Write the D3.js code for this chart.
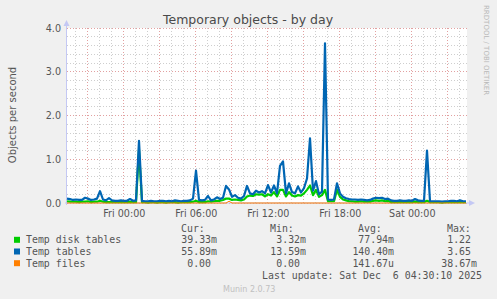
<!DOCTYPE html>
<html>
<head>
<meta charset="utf-8">
<script src="https://cdn.jsdelivr.net/npm/d3@7"></script>
<style>
  html, body { margin: 0; padding: 0; background: #f0f0f0; }
  svg { display: block; }
  text { font-family: "DejaVu Sans", sans-serif; }
  .mono { font-family: "DejaVu Sans Mono", monospace; white-space: pre; }
</style>
</head>
<body>
<div id="chart"></div>
<script>
// 5 minute rrd, 400 px wide => 33h20m window ending Sat 04:38
const endTime = new Date(2025, 11, 6, 4, 38, 20);
const startTime = new Date(endTime.getTime() - 400 * 300 * 1000);
const stepMinutes = 15;

// Temp tables (blue)
const tablesVals = [
	0.10,0.09,0.07,0.08,0.07,0.07,0.12,0.10,0.07,0.08,
	0.10,0.27,0.08,0.06,0.11,0.06,0.05,0.05,0.06,0.05,
	0.05,0.09,0.05,0.06,1.42,0.05,0.04,0.04,0.05,0.04,
	0.04,0.05,0.05,0.04,0.05,0.04,0.06,0.05,0.04,0.05,
	0.05,0.06,0.10,0.74,0.07,0.06,0.07,0.16,0.06,0.08,
	0.13,0.09,0.12,0.39,0.31,0.14,0.18,0.12,0.10,0.16,
	0.39,0.22,0.20,0.28,0.24,0.27,0.22,0.41,0.24,0.40,
	0.22,0.85,0.95,0.22,0.45,0.25,0.22,0.38,0.24,0.34,
	0.56,1.48,0.28,0.50,0.20,0.26,3.65,0.08,0.07,0.08,
	0.45,0.22,0.14,0.11,0.09,0.08,0.08,0.07,0.08,0.07,
	0.06,0.07,0.10,0.12,0.11,0.12,0.09,0.10,0.06,0.05,
	0.05,0.06,0.05,0.05,0.06,0.05,0.09,0.06,0.05,0.05,
	1.20,0.04,0.04,0.04,0.04,0.03,0.04,0.04,0.05,0.05,
	0.04,0.06,0.04,0.04
];

// Temp disk tables (green)
const diskVals = [
	0.04,0.03,0.03,0.03,0.02,0.03,0.03,0.04,0.02,0.03,
	0.03,0.05,0.03,0.02,0.02,0.02,0.02,0.02,0.02,0.02,
	0.02,0.02,0.02,0.02,1.22,0.02,0.02,0.01,0.02,0.02,
	0.01,0.02,0.02,0.01,0.02,0.02,0.02,0.01,0.02,0.02,
	0.02,0.02,0.03,0.05,0.02,0.02,0.02,0.04,0.03,0.04,
	0.05,0.05,0.07,0.10,0.10,0.07,0.08,0.07,0.06,0.08,
	0.15,0.17,0.16,0.20,0.19,0.20,0.15,0.20,0.17,0.25,
	0.15,0.30,0.30,0.15,0.25,0.17,0.15,0.18,0.17,0.22,
	0.30,0.40,0.18,0.30,0.14,0.18,0.30,0.04,0.04,0.04,
	0.30,0.14,0.08,0.06,0.04,0.04,0.03,0.03,0.04,0.03,
	0.03,0.03,0.05,0.06,0.05,0.06,0.04,0.05,0.02,0.02,
	0.02,0.02,0.02,0.02,0.02,0.02,0.03,0.02,0.02,0.02,
	0.05,0.02,0.02,0.02,0.02,0.01,0.02,0.02,0.02,0.02,
	0.02,0.02,0.02,0.02
];

// Temp files (orange)
const filesVals = [
	0,0,0,0,0,0,0,0,0,0, 0,0,0,0,0,0,0,0,0,0,
	0,0,0,0,0,0,0,0,0,0, 0,0,0,0,0,0,0,0,0,0,
	0,0,0,0,0,0,0,0,0,0, 0,0,0,0,0.039,0,0,0,0,0,
	0,0,0,0,0,0,0,0,0,0, 0,0,0,0,0,0,0,0,0,0,
	0,0,0,0,0,0,0,0,0,0, 0,0,0,0,0,0,0,0,0,0,
	0,0,0,0,0,0,0,0,0,0, 0,0,0,0,0,0,0,0,0,0,
	0,0,0,0,0,0,0,0,0,0, 0,0,0,0
];

const yTicks = [0, 1, 2, 3, 4];

const legendHead = ["Cur:", "Min:", "Avg:", "Max:"];
const series = [
	{ name: "Temp disk tables", color: "#00cc00", vals: diskVals, stats: ["39.33m", "3.32m", "77.94m", "1.22"] },
	{ name: "Temp tables", color: "#0066b3", vals: tablesVals, stats: ["55.89m", "13.59m", "140.40m", "3.65"] },
	{ name: "Temp files", color: "#ff8000", vals: filesVals, stats: ["0.00", "0.00", "141.67u", "38.67m"] }
];
const lastUpdate = "Last update: Sat Dec  6 04:30:10 2025";

const W = 497, H = 299;
const plot = { left: 67, top: 28, right: 467, bottom: 203 };

const svg = d3.select("#chart").append("svg")
	.attr("width", W)
	.attr("height", H);

svg.append("rect").attr("width", W).attr("height", H).attr("fill", "#f0f0f0");
svg.append("rect")
	.attr("x", plot.left).attr("y", plot.top)
	.attr("width", plot.right - plot.left).attr("height", plot.bottom - plot.top)
	.attr("fill", "#ffffff");

const x = d3.scaleTime().domain([startTime, endTime]).range([plot.left, plot.right]);
const y = d3.scaleLinear().domain([0, 4]).range([plot.bottom, plot.top]);

const times = tablesVals.map((_, i) => new Date(startTime.getTime() + i * stepMinutes * 60000));

const crisp = v => Math.floor(v) + 0.5;

// grid, minor first then major
const minorCol = "#cecece", majorCol = "#e2a0a0";
const grid = svg.append("g").attr("stroke-dasharray", "1,2");
grid.selectAll("line.vmin")
	.data(x.ticks(d3.timeHour.every(1)))
	.enter().append("line")
	.attr("x1", d => crisp(x(d))).attr("x2", d => crisp(x(d)))
	.attr("y1", plot.top).attr("y2", plot.bottom)
	.attr("stroke", minorCol);
grid.selectAll("line.hmin")
	.data(d3.range(0, 4.01, 0.2))
	.enter().append("line")
	.attr("x1", plot.left).attr("x2", plot.right)
	.attr("y1", d => crisp(y(d))).attr("y2", d => crisp(y(d)))
	.attr("stroke", minorCol);
grid.selectAll("line.vmaj")
	.data(x.ticks(d3.timeHour.every(3)))
	.enter().append("line")
	.attr("x1", d => crisp(x(d))).attr("x2", d => crisp(x(d)))
	.attr("y1", plot.top).attr("y2", plot.bottom)
	.attr("stroke", majorCol);
grid.selectAll("line.hmaj")
	.data(yTicks)
	.enter().append("line")
	.attr("x1", plot.left).attr("x2", plot.right)
	.attr("y1", d => crisp(y(d))).attr("y2", d => crisp(y(d)))
	.attr("stroke", majorCol);

// axes lines with arrows
const axisColor = "#c4c8f4";
svg.append("line")
	.attr("x1", 66.5).attr("x2", 66.5).attr("y1", plot.bottom + 2).attr("y2", 24)
	.attr("stroke", axisColor);
svg.append("path").attr("d", "M63.5,26 L66.5,20 L69.5,26 Z").attr("fill", axisColor);
svg.append("line")
	.attr("x1", plot.left - 2).attr("x2", 471).attr("y1", plot.bottom).attr("y2", plot.bottom)
	.attr("stroke", axisColor);
svg.append("path").attr("d", `M469,${plot.bottom - 3} L475,${plot.bottom} L469,${plot.bottom + 3} Z`).attr("fill", axisColor);

// series lines
const line = d3.line()
	.x((d, i) => x(times[i]))
	.y(d => y(d));

series.forEach(s => {
	svg.append("path")
		.datum(s.vals)
		.attr("fill", "none")
		.attr("stroke", s.color)
		.attr("stroke-width", s.name == "Temp files" ? 1 : 2.2)
		.attr("stroke-linejoin", "round")
		.attr("d", line);
});

// y tick labels
svg.selectAll("text.ytick")
	.data(yTicks)
	.enter().append("text")
	.attr("x", 61)
	.attr("y", d => y(d) + 3.5)
	.attr("text-anchor", "end")
	.attr("font-size", "9.6px")
	.attr("fill", "#555")
	.text(d3.format(".1f"));

// x tick labels
const fmt = d3.timeFormat("%a %H:%M");
svg.selectAll("text.xtick")
	.data(x.ticks(d3.timeHour.every(6)))
	.enter().append("text")
	.attr("x", d => x(d) + 1)
	.attr("y", 216.5)
	.attr("text-anchor", "middle")
	.attr("font-size", "9.6px")
	.attr("fill", "#555")
	.text(fmt);

// title and axis label
svg.append("text")
	.attr("x", 248).attr("y", 23.5)
	.attr("text-anchor", "middle")
	.attr("font-size", "12.5px")
	.attr("fill", "#4a4a4a")
	.text("Temporary objects - by day");

svg.append("text")
	.attr("transform", "translate(15.5,115) rotate(-90)")
	.attr("text-anchor", "middle")
	.attr("font-size", "10px")
	.attr("fill", "#555")
	.text("Objects per second");

svg.append("text")
	.attr("transform", "translate(484,5) rotate(90)")
	.attr("font-size", "7px")
	.attr("fill", "#b8b8b8")
	.text("RRDTOOL / TOBI OETIKER");

// legend
const legFont = "9.9px";
const headX = [181, 270, 358, 447];
const colRight = [217, 306, 394, 477];
svg.selectAll("text.head")
	.data(legendHead)
	.enter().append("text")
	.attr("class", "mono")
	.attr("x", (d, i) => headX[i])
	.attr("y", 231.5)
	.attr("font-size", legFont)
	.attr("fill", "#555")
	.text(d => d);

series.forEach((s, r) => {
	const base = 243.3 + r * 11.7;
	svg.append("rect")
		.attr("x", 14).attr("y", base - 6.5)
		.attr("width", 6).attr("height", 6)
		.attr("fill", s.color);
	svg.append("text")
		.attr("class", "mono")
		.attr("x", 26).attr("y", base)
		.attr("font-size", legFont)
		.attr("fill", "#555")
		.text(s.name);
	s.stats.forEach((v, c) => {
		// unitless numbers keep a blank suffix slot
		const hasUnit = /[a-z]$/i.test(v);
		svg.append("text")
			.attr("class", "mono")
			.attr("x", colRight[c] - (hasUnit ? 0 : 6))
			.attr("y", base)
			.attr("text-anchor", "end")
			.attr("font-size", legFont)
			.attr("fill", "#555")
			.text(v);
	});
});

svg.append("text")
	.attr("class", "mono")
	.attr("x", 262).attr("y", 279)
	.attr("font-size", legFont)
	.attr("fill", "#555")
	.text(lastUpdate);

svg.append("text")
	.attr("x", 223).attr("y", 292)
	.attr("font-size", "8px")
	.attr("fill", "#c0c0c0")
	.text("Munin 2.0.73");
</script>
</body>
</html>
